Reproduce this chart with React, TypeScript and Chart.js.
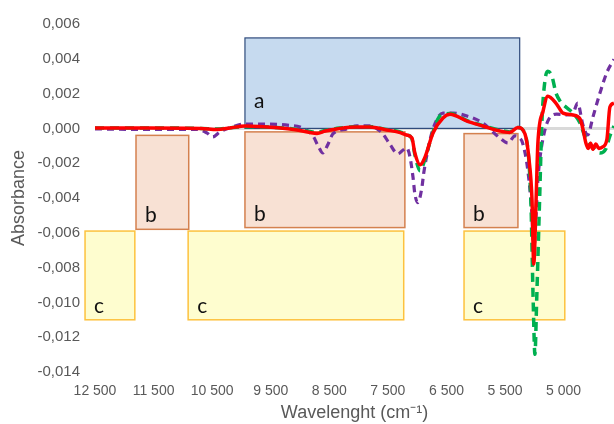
import React, { useEffect, useRef } from "react";
import { Chart, registerables } from "chart.js";

Chart.register(...registerables);

// X axis: tick positions are evenly spaced index units, labelled as in the source
const xTickLabels = ["12 500", "11 500", "10 500", "9 500", "8 500", "7 500", "6 500", "5 500", "5 000"];
const xMax = 8.86;

// Series (x in tick-index units, y in thousandths of absorbance)
const redX = [0, 0.94, 1.81, 2.08, 2.3, 2.56, 3.16, 3.45, 3.67, 3.79, 3.93, 4.18, 4.47, 4.69, 4.98, 5.21, 5.32, 5.41, 5.46, 5.55, 5.63, 5.77, 5.94, 6.06, 6.35, 6.62, 6.91, 7.08, 7.22, 7.34, 7.41, 7.46, 7.49, 7.53, 7.56, 7.65, 7.73, 7.88, 7.99, 8.16, 8.28, 8.33, 8.38, 8.42, 8.46, 8.5, 8.55, 8.6, 8.67, 8.74, 8.79, 8.86];
const redY = [0.02, 0.02, 0, -0.06, 0.02, 0.14, 0.02, -0.09, -0.24, -0.29, -0.15, 0, 0.08, 0.08, -0.09, -0.24, -0.38, -0.55, -1.41, -2.09, -1.69, -0.26, 0.6, 0.82, 0.42, 0.14, -0.15, -0.24, 0.05, -0.32, -1.81, -4.09, -7.8, -4.09, -0.89, 1.0, 1.85, 1.4, 0.88, 0.77, 0.54, -0.03, -0.84, -1.15, -0.85, -1.2, -0.9, -1.15, -1.06, -0.61, 1.23, 1.45];

const greenX = [0, 0.94, 1.81, 2.08, 2.3, 2.56, 3.16, 3.45, 3.67, 3.79, 3.93, 4.18, 4.47, 4.69, 4.98, 5.21, 5.32, 5.41, 5.46, 5.55, 5.63, 5.77, 5.9, 6.06, 6.35, 6.62, 6.91, 7.08, 7.22, 7.34, 7.44, 7.48, 7.51, 7.54, 7.59, 7.63, 7.68, 7.73, 7.8, 7.87, 7.94, 8.06, 8.16, 8.28, 8.36, 8.48, 8.62, 8.72, 8.79, 8.86];
const greenY = [0.02, 0.02, 0, -0.04, 0.04, 0.1, 0.04, -0.06, -0.18, -0.22, -0.12, 0.02, 0.1, 0.1, -0.06, -0.2, -0.36, -0.6, -1.5, -2.44, -1.8, -0.2, 0.75, 0.85, 0.45, 0.16, -0.1, -0.2, 0.05, -0.32, -4.09, -9.87, -12.98, -9.87, -4.09, 0.42, 2.71, 3.28, 3.0, 2.03, 1.57, 1.17, 0.88, 0.31, -0.43, -1.01, -1.41, -1.18, -0.43, 0.14];

const purpleX = [0, 0.94, 1.74, 1.91, 2.01, 2.13, 2.34, 2.56, 2.9, 3.33, 3.5, 3.72, 3.81, 3.89, 3.98, 4.06, 4.3, 4.47, 4.69, 4.9, 5.03, 5.17, 5.26, 5.32, 5.38, 5.43, 5.46, 5.51, 5.58, 5.61, 5.68, 5.77, 5.94, 6.11, 6.35, 6.62, 6.91, 7.05, 7.17, 7.25, 7.3, 7.39, 7.46, 7.49, 7.53, 7.56, 7.59, 7.65, 7.73, 7.88, 8.05, 8.16, 8.24, 8.33, 8.41, 8.5, 8.62, 8.74, 8.86];
const purpleY = [-0.03, -0.06, -0.06, -0.26, -0.49, -0.21, 0.08, 0.25, 0.25, 0.17, 0.08, -0.43, -1.01, -1.41, -0.89, -0.32, -0.03, 0.14, 0.14, -0.26, -0.89, -1.46, -1.24, -1.12, -1.69, -2.84, -3.75, -4.27, -3.41, -2.61, -1.29, -0.03, 0.88, 0.88, 0.71, 0.31, -0.55, -0.84, -0.43, -0.55, -0.84, -2.44, -5.01, -7.0, -5.01, -3.01, -1.87, -0.55, 0.42, 0.82, 0.77, 0.88, 1.45, 0.19, -0.38, 0.65, 2.03, 3.23, 3.97];

// Highlight boxes (x in tick-index units, y in absorbance)
const boxLabels = ["a", "b", "b", "b", "c", "c", "c"];
const boxX1 = [2.56, 0.7, 2.56, 6.3, -0.17, 1.59, 6.3];
const boxX2 = [7.25, 1.6, 5.29, 7.22, 0.68, 5.27, 8.02];
const boxYTop = [0.0052, -0.0004, -0.0002, -0.0003, -0.0059, -0.0059, -0.0059];
const boxYBottom = [0.0, -0.0058, -0.0057, -0.0057, -0.011, -0.011, -0.011];

const boxStyle: Record<string, { fill: string; stroke: string; width: number; dy: number }> = {
  a: { fill: "#c6daef", stroke: "#2f4b7c", width: 1.2, dy: 20 },
  b: { fill: "#f8e1d4", stroke: "#d4814f", width: 1.5, dy: 7 },
  c: { fill: "#fefdcf", stroke: "#fdc23e", width: 1.5, dy: 7 },
};

const toPts = (xs: number[], ys: number[]) => xs.map((x, i) => ({ x, y: ys[i] / 1000 }));

const boxesPlugin = {
  id: "boxes",
  beforeDatasetsDraw(chart: any) {
    const { ctx, scales } = chart;
    const xs = scales.x;
    const ys = scales.y;
    ctx.save();
    boxLabels.forEach((lab, i) => {
      const st = boxStyle[lab];
      const l = xs.getPixelForValue(boxX1[i]);
      const r = xs.getPixelForValue(boxX2[i]);
      const t = ys.getPixelForValue(boxYTop[i]);
      const b = ys.getPixelForValue(boxYBottom[i]);
      ctx.fillStyle = st.fill;
      ctx.fillRect(l, t, r - l, b - t);
      ctx.strokeStyle = st.stroke;
      ctx.lineWidth = st.width;
      ctx.strokeRect(l, t, r - l, b - t);
      ctx.fillStyle = "#111111";
      ctx.font = "21px Lato, 'Open Sans', sans-serif";
      ctx.textAlign = "left";
      ctx.textBaseline = "alphabetic";
      ctx.fillText(lab, l + 9, b - st.dy);
    });
    ctx.restore();
  },
};

export default function App() {
  const ref = useRef<HTMLCanvasElement | null>(null);
  useEffect(() => {
    if (!ref.current) return;
    const chart = new Chart(ref.current, {
      type: "line",
      data: {
        datasets: [
          {
            label: "red",
            data: toPts(redX, redY),
            borderColor: "#ff0000",
            borderWidth: 3.5,
            pointRadius: 0,
            cubicInterpolationMode: "monotone",
          },
          {
            label: "green",
            data: toPts(greenX, greenY),
            borderColor: "#00b050",
            borderWidth: 3.5,
            borderDash: [9, 6],
            pointRadius: 0,
            cubicInterpolationMode: "monotone",
          },
          {
            label: "purple",
            data: toPts(purpleX, purpleY),
            borderColor: "#7030a0",
            borderWidth: 3.2,
            borderDash: [7, 5],
            pointRadius: 0,
            cubicInterpolationMode: "monotone",
          },
        ],
      },
      options: {
        animation: false,
        responsive: false,
        devicePixelRatio: 1,
        layout: { padding: { top: 22.5, right: 0, left: 0, bottom: 0 } },
        plugins: { legend: { display: false }, tooltip: { enabled: false } },
        scales: {
          x: {
            type: "linear",
            min: 0,
            max: xMax,
            grid: { display: false, drawTicks: false },
            border: { display: false },
            afterBuildTicks: (scale: any) => {
              scale.ticks = xTickLabels.map((_, i) => ({ value: i }));
            },
            afterFit: (scale: any) => {
              scale.height = 52;
            },
            ticks: {
              autoSkip: false,
              maxRotation: 0,
              padding: 11,
              color: "#595959",
              font: { family: "'Liberation Sans', Arial, sans-serif", size: 14 },
              callback: (v: any) => xTickLabels[Math.round(Number(v))] ?? "",
            },
            title: {
              display: true,
              text: "Wavelenght (cm⁻¹)",
              color: "#595959",
              font: { family: "'Liberation Sans', Arial, sans-serif", size: 18 },
              padding: { top: 0, bottom: 0 },
            },
          },
          y: {
            min: -0.014,
            max: 0.006,
            border: { display: false },
            grid: {
              drawTicks: false,
              color: (c: any) => (c.tick && Math.abs(c.tick.value) < 1e-9 ? "#d9d9d9" : "rgba(0,0,0,0)"),
              lineWidth: 3,
            },
            afterFit: (scale: any) => {
              scale.width = 95;
            },
            ticks: {
              stepSize: 0.002,
              padding: 15,
              color: "#595959",
              font: { family: "'Liberation Sans', Arial, sans-serif", size: 15 },
              callback: (v: any) => Number(v).toFixed(3).replace(".", ","),
            },
            title: {
              display: true,
              text: "Absorbance",
              color: "#595959",
              font: { family: "'Liberation Sans', Arial, sans-serif", size: 18 },
              padding: { top: 8, bottom: 0 },
            },
          },
        },
      },
      plugins: [boxesPlugin],
    });
    return () => chart.destroy();
  }, []);
  return (
    <div style={{ position: "fixed", left: 0, top: 0, width: 614, height: 424, background: "#ffffff" }}>
      <canvas ref={ref} width={614} height={424} style={{ display: "block" }} />
    </div>
  );
}
